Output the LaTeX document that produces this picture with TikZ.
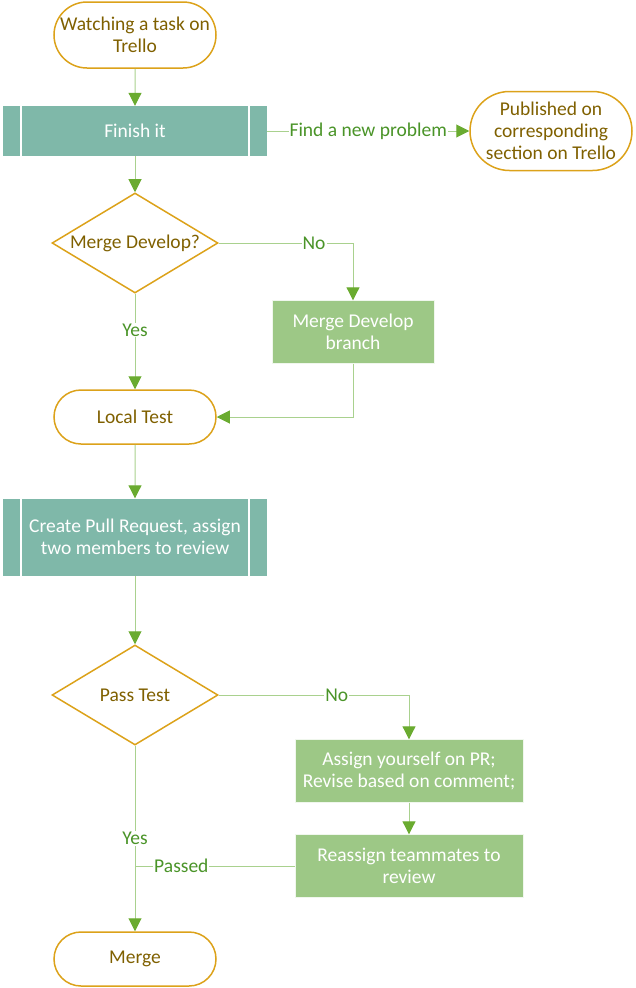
\documentclass[tikz,border=0pt]{standalone}
\usepackage{fontspec}
\setmainfont{Carlito}
\usepackage{tikz}
\usetikzlibrary{shapes.misc}
\usetikzlibrary{shapes.geometric}
\usetikzlibrary{arrows.meta}
\definecolor{termline}{HTML}{DCA21A}
\definecolor{termtext}{HTML}{7F6000}
\definecolor{tealfill}{HTML}{7FB8A9}
\definecolor{boxfill}{HTML}{9DC886}
\definecolor{flowline}{HTML}{A9D18E}
\definecolor{flowtip}{HTML}{6AAB30}
\definecolor{labeltext}{HTML}{4A9428}
\tikzset{
  every node/.style = {font = \fontsize{19.5}{22}\selectfont, align = center},
  term/.style = {draw = termline, line width = 1.5, rounded rectangle, text = termtext,
    minimum width = 164, minimum height = 54, inner sep = 1},
  decide/.style = {draw = termline, line width = 1.5, diamond, aspect = 1.66, text = termtext,
    minimum width = 166, minimum height = 100, inner sep = 0},
  predef/.style = {fill = tealfill, text = white, minimum width = 264, inner sep = 1},
  task/.style = {fill = boxfill, draw = white!85!boxfill, text = white, minimum width = 162,
    minimum height = 63, inner sep = 1},
  flow/.style = {draw = flowline, line width = 1, -{Triangle[length = 13, width = 13, color = flowtip]}},
  plainflow/.style = {draw = flowline, line width = 1},
  tag/.style = {fill = white, text = labeltext, inner sep = 1}
}
\begin{document}
\begin{tikzpicture}[x = 1pt, y = -1pt]
  \useasboundingbox (0, 0) rectangle (635, 988);
  \node (watch) at (135, 35) [term, minimum height = 66] {Watching a task on\\Trello};
  \node (finish) at (135, 131) [predef, minimum height = 50] {Finish it};
  \node (publish) at (551, 131) [term, minimum height = 79] {Published on\\corresponding\\section on Trello};
  \node (mergeq) at (135, 243) [decide] {Merge Develop?};
  \node (mergebr) at (353, 332) [task] {Merge Develop\\branch};
  \node (local) at (135, 417) [term] {Local Test};
  \node (pullreq) at (135, 537) [predef, minimum height = 77] {Create Pull Request, assign\\two members to review};
  \node (pass) at (135, 695) [decide] {Pass Test};
  \node (assign) at (409, 771) [task, minimum width = 228] {Assign yourself on PR;\\Revise based on comment;};
  \node (reassign) at (409, 866) [task, minimum width = 228] {Reassign teammates to\\review};
  \node (merge) at (135, 959) [term] {Merge};
  \foreach \n in {finish, pullreq} {
    \draw[white, line width = 1.5] ([xshift = 18]\n.north west) -- ([xshift = 18]\n.south west);
    \draw[white, line width = 1.5] ([xshift = -18]\n.north east) -- ([xshift = -18]\n.south east);
  }
  \draw[flow] (watch) -- (finish);
  \draw[flow] (finish) -- node[tag] {Find a new problem} (publish);
  \draw[flow] (finish) -- (mergeq);
  \draw[flow] (mergeq.east) -- node[tag, pos = .71] {No} (mergeq.east -| mergebr) -- (mergebr);
  \draw[flow] (mergeq) -- node[tag, pos = .38] {Yes} (local);
  \draw[flow] (mergebr) |- (local);
  \draw[flow] (local) -- (pullreq);
  \draw[flow] (pullreq) -- (pass);
  \draw[flow] (pass.east) -- node[tag, pos = .62] {No} (pass.east -| assign) -- (assign);
  \draw[flow] (assign) -- (reassign);
  \draw[flow] (pass) -- node[tag, pos = .5] {Yes} (merge);
  \draw[plainflow] (reassign) -- node[tag, pos = .71] {Passed} (reassign -| merge);
\end{tikzpicture}
\end{document}
